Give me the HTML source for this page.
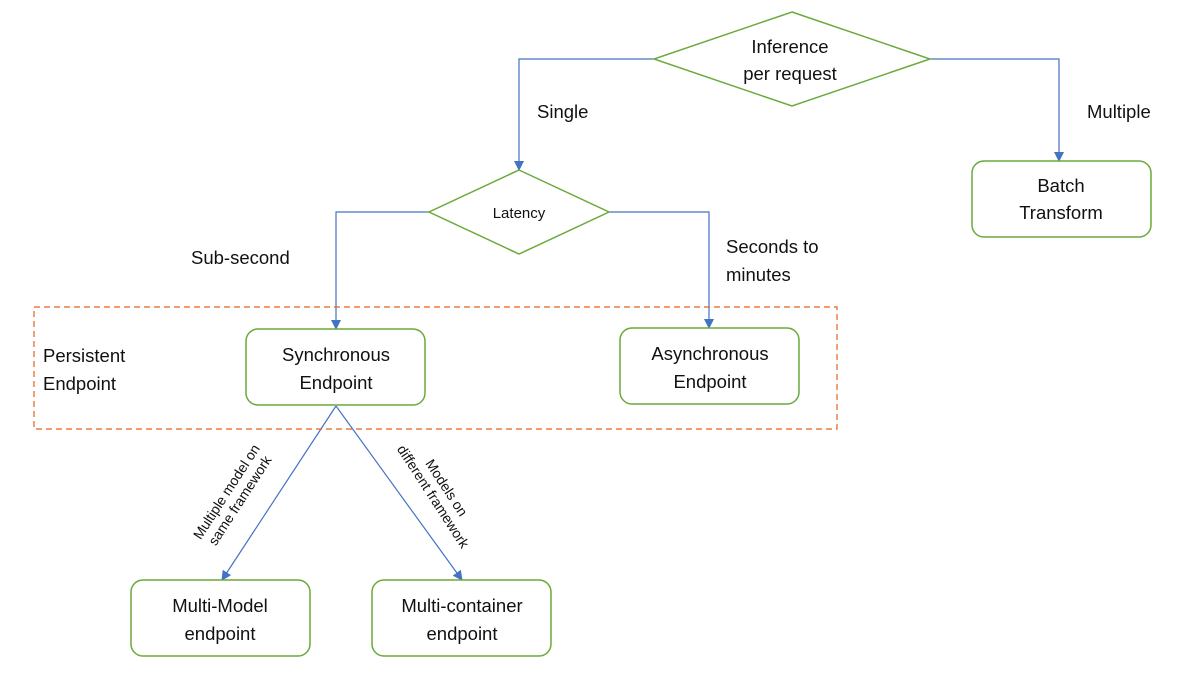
<!DOCTYPE html>
<html><head><meta charset="utf-8"><style>
html,body{margin:0;padding:0;background:#fff;width:1200px;height:676px;overflow:hidden}
svg text{font-family:"Liberation Sans",sans-serif;fill:#111}
</style></head><body>
<svg width="1200" height="676" viewBox="0 0 1200 676" xmlns="http://www.w3.org/2000/svg">
<defs>
<marker id="b" markerWidth="10" markerHeight="10" refX="9" refY="5" orient="auto" markerUnits="userSpaceOnUse" viewBox="0 0 10 10"><path d="M0,0 L10,5 L0,10 z" fill="#4472c4"/></marker></defs>
<g fill="none" stroke="#4472c4" stroke-width="1.2">
<polyline points="654,59 519,59 519,170" marker-end="url(#b)"/>
<polyline points="930,59 1059,59 1059,161" marker-end="url(#b)"/>
<polyline points="429,212 336,212 336,329" marker-end="url(#b)"/>
<polyline points="609,212 709,212 709,328" marker-end="url(#b)"/>
<line x1="336" y1="406" x2="222" y2="580" marker-end="url(#b)"/>
<line x1="336" y1="406" x2="462" y2="580" marker-end="url(#b)"/>
</g>
<rect x="34" y="307" width="803" height="122" fill="none" stroke="#e5601a" stroke-width="1.2" stroke-dasharray="6,4"/>
<g fill="#fff" stroke="#6aaa3a" stroke-width="1.5">
<polygon points="792,12 930,59 792,106 654,59"/>
<polygon points="519,170 609,212 519,254 429,212"/>
<rect x="972" y="161" width="179" height="76" rx="12"/>
<rect x="246" y="329" width="179" height="76" rx="12"/>
<rect x="620" y="328" width="179" height="76" rx="12"/>
<rect x="131" y="580" width="179" height="76" rx="12"/>
<rect x="372" y="580" width="179" height="76" rx="12"/>
</g>
<g font-size="18.5" text-anchor="middle">
<text x="790" y="53">Inference</text><text x="790" y="80">per request</text>
<text x="519" y="218" font-size="15">Latency</text>
<text x="1061" y="192">Batch</text><text x="1061" y="219">Transform</text>
<text x="336" y="361">Synchronous</text><text x="336" y="389">Endpoint</text>
<text x="710" y="360">Asynchronous</text><text x="710" y="388">Endpoint</text>
<text x="220" y="612">Multi-Model</text><text x="220" y="640">endpoint</text>
<text x="462" y="612">Multi-container</text><text x="462" y="640">endpoint</text>
</g>
<g font-size="18.5">
<text x="537" y="118">Single</text>
<text x="1087" y="118">Multiple</text>
<text x="191" y="264">Sub-second</text>
<text x="726" y="253">Seconds to</text><text x="726" y="281">minutes</text>
<text x="43" y="362">Persistent</text><text x="43" y="390">Endpoint</text>
</g>
<g font-size="14" text-anchor="middle">
<text transform="translate(233,496) rotate(-57)"><tspan x="0" y="-3">Multiple model on</tspan><tspan x="0" y="13">same framework</tspan></text>
<text transform="translate(440,492) rotate(57)"><tspan x="0" y="-3">Models on</tspan><tspan x="0" y="13">different framework</tspan></text>
</g>
</svg>
</body></html>
